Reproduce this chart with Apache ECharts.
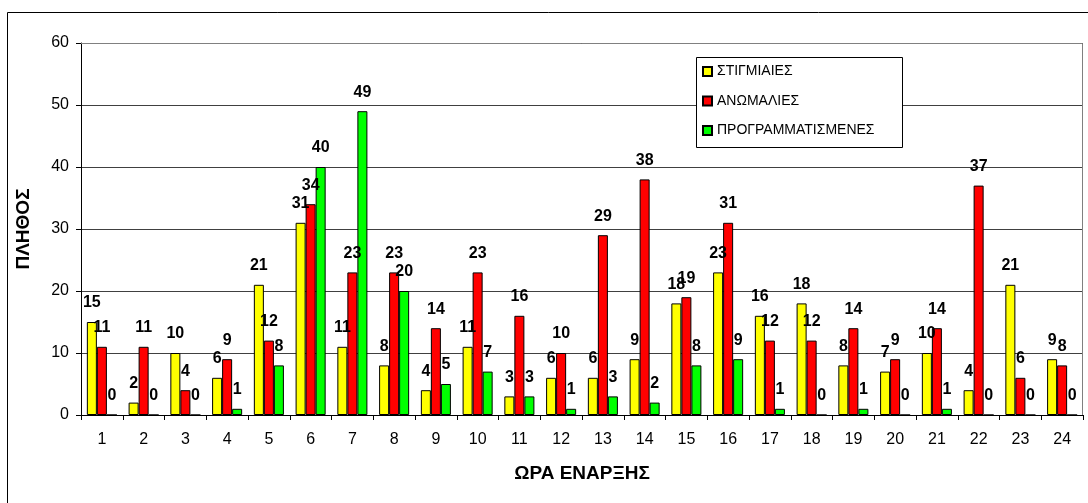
<!DOCTYPE html>
<html>
<head>
<meta charset="utf-8">
<script src="https://cdn.jsdelivr.net/npm/echarts@6/dist/echarts.min.js"></script>
<style>
  html, body { margin: 0; padding: 0; background: #fff; }
  #chart { width: 1088px; height: 503px; }
</style>
</head>
<body>
<div id="chart"></div>
<script>
// Hour of start (1..24)
const hours = ['1','2','3','4','5','6','7','8','9','10','11','12','13','14','15','16','17','18','19','20','21','22','23','24'];

// Counts per hour for each outage type
const stigmiaies = [15, 2, 10, 6, 21, 31, 11, 8, 4, 11, 3, 6, 6, 9, 18, 23, 16, 18, 8, 7, 10, 4, 21, 9];
const anomalies = [11, 11, 4, 9, 12, 34, 23, 23, 14, 23, 16, 10, 29, 38, 19, 31, 12, 12, 14, 9, 14, 37, 6, 8];
const programmatismenes = [0, 0, 0, 1, 8, 40, 49, 20, 5, 7, 3, 1, 3, 2, 8, 9, 1, 0, 1, 0, 1, 0, 0, 0];

const seriesNames = ['ΣΤΙΓΜΙΑΙΕΣ', 'ΑΝΩΜΑΛΙΕΣ', 'ΠΡΟΓΡΑΜΜΑΤΙΣΜΕΝΕΣ'];
const seriesColors = ['#FFFF00', '#FF0000', '#00FF00'];
const seriesData = [stigmiaies, anomalies, programmatismenes];

const FONT = '"Liberation Sans", Arial, sans-serif';

const chart = echarts.init(document.getElementById('chart'), null, { renderer: 'canvas' });

chart.setOption({
  backgroundColor: '#fff',
  animation: false,
  textStyle: { fontFamily: FONT },
  grid: { left: 81, right: 5, top: 43, bottom: 88, containLabel: false },
  graphic: [
    {
      // outer chart frame
      type: 'rect', silent: true, z: -10,
      shape: { x: 7.5, y: 12.5, width: 1100, height: 600 },
      style: { fill: 'none', stroke: '#000', lineWidth: 1 }
    },
    {
      // plot area border (top and right)
      type: 'polyline', silent: true, z: 1,
      shape: { points: [[81, 43.5], [1082.5, 43.5], [1082.5, 415]] },
      style: { fill: 'none', stroke: '#808080', lineWidth: 1 }
    },
    {
      // legend box
      type: 'rect', silent: true, z: 3,
      shape: { x: 696.5, y: 57.5, width: 206, height: 90 },
      style: { fill: '#fff', stroke: '#000', lineWidth: 1 }
    }
  ],
  legend: {
    orient: 'vertical',
    left: 697,
    top: 64,
    z: 4,
    padding: [0, 0, 0, 5],
    itemWidth: 9,
    itemHeight: 9,
    itemGap: 14.5,
    icon: 'rect',
    textStyle: { fontFamily: FONT, fontSize: 14, color: '#000', lineHeight: 15, padding: [0, 0, 0, 0] },
    data: seriesNames
  },
  xAxis: {
    type: 'category',
    data: hours,
    name: 'ΩΡΑ ΕΝΑΡΞΗΣ',
    nameLocation: 'middle',
    nameGap: 49,
    nameTextStyle: { fontFamily: FONT, fontSize: 19, fontWeight: 'bold', color: '#000' },
    axisLine: { show: true, lineStyle: { color: '#000', width: 1 } },
    axisTick: { show: true, alignWithLabel: false, length: 5, lineStyle: { color: '#000' } },
    axisLabel: { margin: 17, fontFamily: FONT, fontSize: 16, color: '#000' },
    splitLine: { show: false }
  },
  yAxis: {
    type: 'value',
    min: 0,
    max: 60,
    interval: 10,
    name: 'ΠΛΗΘΟΣ',
    nameLocation: 'middle',
    nameGap: 48,
    nameTextStyle: { fontFamily: FONT, fontSize: 19, fontWeight: 'bold', color: '#000' },
    axisLine: { show: true, lineStyle: { color: '#000', width: 1 } },
    axisTick: { show: true, length: 5, lineStyle: { color: '#000' } },
    axisLabel: { margin: 12, fontFamily: FONT, fontSize: 16, color: '#000' },
    splitLine: { show: true, lineStyle: { color: '#404040', width: 1 } }
  },
  series: seriesNames.map((name, i) => ({
    name: name,
    type: 'bar',
    data: seriesData[i],
    barGap: '0%',
    barCategoryGap: '28%',
    itemStyle: { color: seriesColors[i], borderColor: '#000', borderWidth: 1 },
    label: {
      show: true,
      position: 'top',
      distance: 11,
      fontFamily: FONT,
      fontSize: 16,
      fontWeight: 'bold',
      color: '#000'
    }
  }))
});
</script>
</body>
</html>
